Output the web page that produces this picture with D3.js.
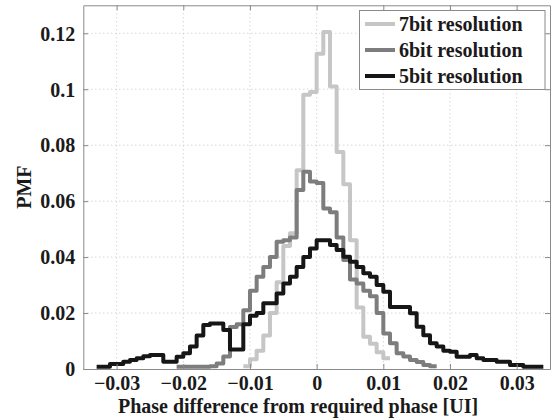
<!DOCTYPE html>
<html>
<head>
<meta charset="utf-8">
<script src="https://cdn.jsdelivr.net/npm/d3@7"></script>
<style>
  html, body { margin: 0; padding: 0; background: #fff; }
  svg { display: block; }
  text { font-family: "Liberation Serif", "Times New Roman", serif; font-weight: bold; fill: #1a1a1a; }
</style>
</head>
<body>
<svg id="chart" width="556" height="420"></svg>
<script>
// Histogram bin width and the left edge of each series' first bin [UI]
const binWidth = 0.001;
const start7 = -0.011;
const start6 = -0.021;
const start5 = -0.033;

// PMF per bin, 7-bit phase resolution
const pmf7 = [0.001, 0.0035, 0.0065, 0.012, 0.020, 0.031, 0.044, 0.0485, 0.071, 0.098, 0.099,
              0.1127, 0.1205, 0.101, 0.0776, 0.066, 0.046, 0.022, 0.0115, 0.009, 0.006, 0.0038];

// PMF per bin, 6-bit phase resolution
const pmf6 = [0.0008, 0.0008, 0.0008, 0.0008, 0.0008, 0.001, 0.002, 0.0045, 0.015, 0.016, 0.021,
              0.028, 0.033, 0.0365, 0.040, 0.0455, 0.046, 0.047, 0.064, 0.0705,
              0.067, 0.0665, 0.0574, 0.056, 0.047, 0.039, 0.032, 0.0306, 0.028, 0.026, 0.020,
              0.0127, 0.0092, 0.0056, 0.0045, 0.0032, 0.0025, 0.0014, 0.001];

// PMF per bin, 5-bit phase resolution
const pmf5 = [0.0008, 0.0008, 0.0018, 0.0018, 0.0026, 0.0032, 0.0038, 0.0046, 0.005, 0.005,
              0.0026, 0.0026, 0.0044, 0.0056, 0.008, 0.012, 0.0157, 0.0163, 0.0163,
              0.0139, 0.007, 0.007, 0.016, 0.019, 0.020, 0.0235, 0.0235, 0.027, 0.0306, 0.033,
              0.0365, 0.040, 0.0431,
              0.046, 0.046, 0.0443, 0.0425, 0.0401, 0.0383, 0.0365, 0.0342, 0.033, 0.030, 0.0276,
              0.0222, 0.0222, 0.0222, 0.0199, 0.0151, 0.0121, 0.0092, 0.008, 0.0065, 0.0062,
              0.0044, 0.0044, 0.005, 0.0038, 0.0032, 0.0032, 0.0026, 0.0026, 0.0014, 0.0014,
              0.0008, 0.0008, 0.0008];

const seriesNames = ["7bit resolution", "6bit resolution", "5bit resolution"];
const seriesColors = ["#c6c6c6", "#7d7d7d", "#161616"];

const xTicks = [-0.03, -0.02, -0.01, 0, 0.01, 0.02, 0.03];
const xTickLabels = ["\u22120.03", "\u22120.02", "\u22120.01", "0", "0.01", "0.02", "0.03"];
const yTicks = [0, 0.02, 0.04, 0.06, 0.08, 0.1, 0.12];
const yTickLabels = ["0", "0.02", "0.04", "0.06", "0.08", "0.1", "0.12"];

const xLabel = "Phase difference from required phase [UI]";
const yLabel = "PMF";

const svg = d3.select("#chart");
const plot = { left: 83.3, right: 550, top: 5.3, bottom: 369 };

const x = d3.scaleLinear().domain([-0.035, 0.035]).range([plot.left, plot.right]);
const y = d3.scaleLinear().domain([0, 0.13]).range([plot.bottom, plot.top]);

const frameColor = "#8a8a8a";
const gridColor = "#c4c4c4";

// dotted grid
const grid = svg.append("g");
grid.selectAll("line.gx").data(xTicks).join("line")
  .attr("x1", d => x(d)).attr("x2", d => x(d))
  .attr("y1", plot.top).attr("y2", plot.bottom)
  .attr("stroke", gridColor).attr("stroke-width", 1).attr("stroke-dasharray", "1,3");
grid.selectAll("line.gy").data(yTicks.filter(d => d > 0)).join("line")
  .attr("y1", d => y(d)).attr("y2", d => y(d))
  .attr("x1", plot.left).attr("x2", plot.right)
  .attr("stroke", gridColor).attr("stroke-width", 1).attr("stroke-dasharray", "1,3");

// step curves
function stairs(values, start) {
  const pts = values.map((v, i) => [start + i * binWidth, v]);
  pts.push([start + values.length * binWidth, values[values.length - 1]]);
  return pts;
}
const series = [
  { values: pmf7, start: start7 },
  { values: pmf6, start: start6 },
  { values: pmf5, start: start5 }
];
const line = d3.line().x(d => x(d[0])).y(d => y(d[1])).curve(d3.curveStepAfter);
const curves = svg.append("g");
series.forEach((s, i) => {
  curves.append("path")
    .attr("d", line(stairs(s.values, s.start)))
    .attr("fill", "none")
    .attr("stroke", seriesColors[i])
    .attr("stroke-width", 4)
    .attr("stroke-linejoin", "round")
    .attr("stroke-linecap", "butt");
});

// axes frame with inward ticks on all sides
const tickLen = 5;
const axB = svg.append("g").attr("transform", `translate(0,${plot.bottom})`)
  .call(d3.axisBottom(x).tickValues(xTicks).tickFormat((d, i) => xTickLabels[i]).tickSizeInner(-tickLen).tickSizeOuter(0).tickPadding(7));
const axT = svg.append("g").attr("transform", `translate(0,${plot.top})`)
  .call(d3.axisTop(x).tickValues(xTicks).tickFormat("").tickSizeInner(-tickLen).tickSizeOuter(0));
const axL = svg.append("g").attr("transform", `translate(${plot.left},0)`)
  .call(d3.axisLeft(y).tickValues(yTicks).tickFormat((d, i) => yTickLabels[i]).tickSizeInner(-tickLen).tickSizeOuter(0).tickPadding(8));
const axR = svg.append("g").attr("transform", `translate(${plot.right},0)`)
  .call(d3.axisRight(y).tickValues(yTicks).tickFormat("").tickSizeInner(-tickLen).tickSizeOuter(0));
[axB, axT, axL, axR].forEach(a => {
  a.select(".domain").attr("stroke", frameColor);
  a.selectAll(".tick line").attr("stroke", frameColor);
  a.selectAll("text").attr("font-size", 20).attr("font-family", null).attr("fill", "#1a1a1a");
});
axB.selectAll("text").attr("dy", "0.71em");
axL.selectAll("text").attr("dy", "0.34em");

// axis titles
svg.append("text").attr("x", 298).attr("y", 413).attr("text-anchor", "middle")
  .attr("font-size", 20).text(xLabel);
svg.append("text").attr("transform", `translate(31,${(plot.top + plot.bottom) / 2}) rotate(-90)`)
  .attr("text-anchor", "middle").attr("font-size", 20).text(yLabel);

// legend
const lg = svg.append("g");
lg.append("rect").attr("x", 359.5).attr("y", 10.5).attr("width", 185.5).attr("height", 79)
  .attr("fill", "#fff").attr("stroke", frameColor).attr("stroke-width", 1);
seriesNames.forEach((name, i) => {
  const cy = 24 + i * 26;
  lg.append("line").attr("x1", 365).attr("x2", 395).attr("y1", cy).attr("y2", cy)
    .attr("stroke", seriesColors[i]).attr("stroke-width", 4);
  lg.append("text").attr("x", 399).attr("y", cy + 7).attr("font-size", 20).text(name);
});
</script>
</body>
</html>
